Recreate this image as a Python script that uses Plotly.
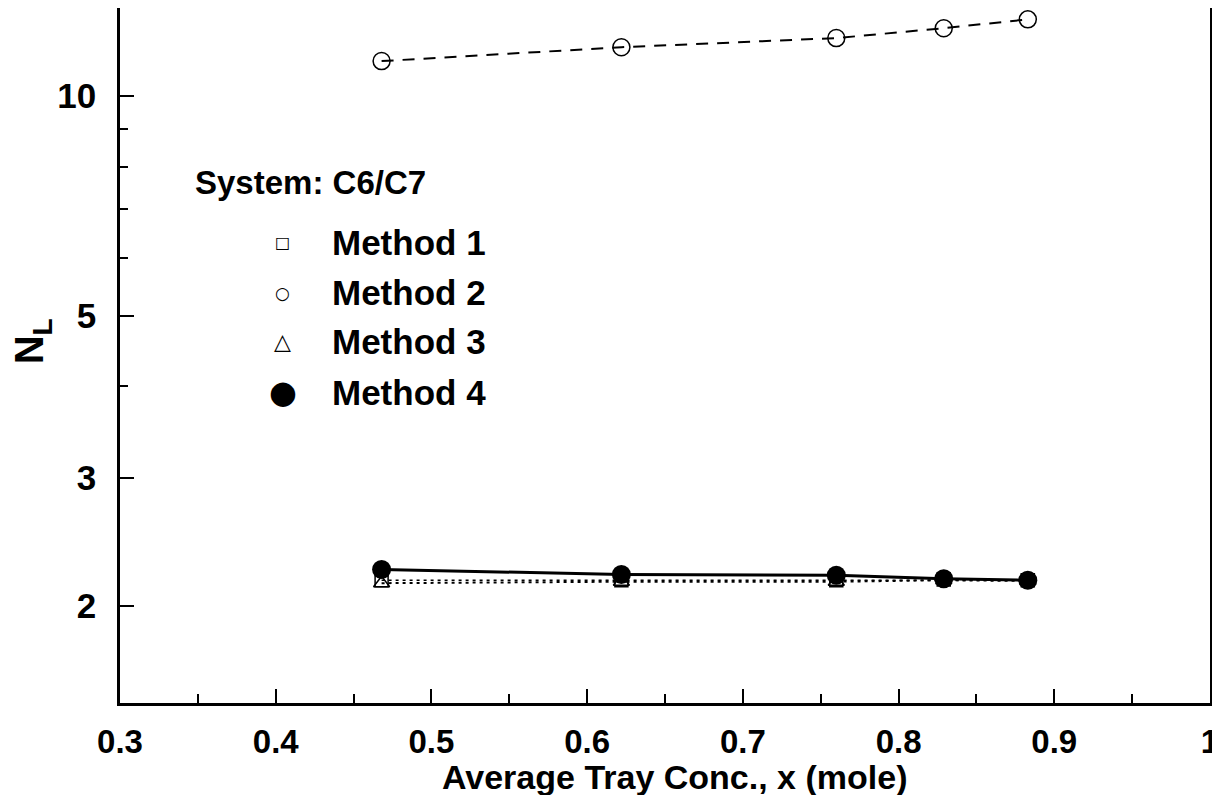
import plotly.graph_objects as go

# Data
x_conc = [0.468, 0.622, 0.760, 0.829, 0.883]
method1 = [2.17, 2.17, 2.17, 2.175, 2.17]
method2 = [11.16, 11.66, 12.0, 12.38, 12.73]
method3 = [2.15, 2.16, 2.16, 2.17, 2.165]
method4 = [2.245, 2.21, 2.205, 2.18, 2.17]

x_ticks = [0.3, 0.4, 0.5, 0.6, 0.7, 0.8, 0.9, 1.0]
x_ticktext = ["0.3", "0.4", "0.5", "0.6", "0.7", "0.8", "0.9", "1"]
y_ticks = [2, 3, 5, 10]
y_minor = [4, 6, 7, 8, 9]
x_minor = [0.35, 0.45, 0.55, 0.65, 0.75, 0.85, 0.95]

x_title = "Average Tray Conc., x (mole)"
y_title = "N<sub>L</sub>"
legend_title = "System: C6/C7"
legend_names = ["Method 1", "Method 2", "Method 3", "Method 4"]
legend_symbols = ["\u25a1", "\u25cb", "\u25b3", "\u25cf"]

FONT = "Liberation Sans"

fig = go.Figure()
fig.add_trace(go.Scatter(x=x_conc, y=method3, mode="lines+markers", name="Method 3",
                         line=dict(color="black", width=2, dash="3px,4px"),
                         marker=dict(symbol="triangle-up-open", size=14, color="black", line=dict(width=1.5))))
fig.add_trace(go.Scatter(x=x_conc, y=method1, mode="lines+markers", name="Method 1",
                         line=dict(color="black", width=1.5, dash="3px,4px"),
                         marker=dict(symbol="square-open", size=13, color="black", line=dict(width=1.5))))
fig.add_trace(go.Scatter(x=x_conc, y=method4, mode="lines+markers", name="Method 4",
                         line=dict(color="black", width=3),
                         marker=dict(symbol="circle", size=19, color="black")))
fig.add_trace(go.Scatter(x=x_conc, y=method2, mode="lines+markers", name="Method 2",
                         line=dict(color="black", width=2, dash="12px,9px"),
                         marker=dict(symbol="circle-open", size=17, color="black", line=dict(width=1.5))))

annotations = [
    dict(text="<b>" + legend_title + "</b>", x=0.067, y=0.749, xref="paper", yref="paper",
         xanchor="left", yanchor="middle", showarrow=False,
         font=dict(family=FONT, size=33, color="black")),
    dict(text="<b>" + x_title + "</b>", x=0.509, y=-0.106, xref="paper", yref="paper",
         xanchor="center", yanchor="middle", showarrow=False,
         font=dict(family=FONT, size=34, color="black")),
    dict(text="<b>" + y_title + "</b>", x=-0.081, y=0.52, xref="paper", yref="paper",
         xanchor="center", yanchor="middle", showarrow=False, textangle=-90,
         font=dict(family=FONT, size=40, color="black")),
]
rows_y = [0.662, 0.590, 0.520, 0.447]
sym_sizes = [16, 17, 22, 32]
for name, sym, yy, ss in zip(legend_names, legend_symbols, rows_y, sym_sizes):
    annotations.append(dict(text=sym, x=0.1495, y=yy, xref="paper", yref="paper",
                            xanchor="center", yanchor="middle", showarrow=False,
                            font=dict(family="DejaVu Sans", size=ss, color="black")))
    annotations.append(dict(text="<b>" + name + "</b>", x=0.193, y=yy, xref="paper", yref="paper",
                            xanchor="left", yanchor="middle", showarrow=False,
                            font=dict(family=FONT, size=35, color="black")))

fig.update_layout(
    width=1212, height=787,
    margin=dict(l=112, r=10, t=0, b=92),
    paper_bgcolor="white", plot_bgcolor="white",
    showlegend=False,
    annotations=annotations,
    font=dict(family=FONT, color="black"),
)
fig.update_xaxes(
    range=[0.3, 1.0], tickvals=x_ticks, ticktext=x_ticktext, automargin=False,
    ticks="inside", ticklen=14, tickwidth=2, tickcolor="black",
    minor=dict(tickvals=x_minor, ticks="inside", ticklen=9, tickwidth=2, tickcolor="black"),
    showgrid=False, zeroline=False,
    showline=True, linecolor="black", linewidth=2.5, mirror=True,
    tickfont=dict(family=FONT, size=33, color="black", weight="bold"),
    ticklabelstandoff=8,
)
fig.update_yaxes(
    type="log", range=[0.1683, 1.1204], tickvals=y_ticks, ticktext=[str(v) for v in y_ticks],
    automargin=False,
    ticks="inside", ticklen=14, tickwidth=2, tickcolor="black",
    minor=dict(tickvals=y_minor, ticks="inside", ticklen=8, tickwidth=2, tickcolor="black"),
    showgrid=False, zeroline=False,
    showline=True, linecolor="black", linewidth=2.5, mirror=True,
    tickfont=dict(family=FONT, size=35, color="black", weight="bold"),
    ticklabelstandoff=14,
)

fig.write_html("out.html")
